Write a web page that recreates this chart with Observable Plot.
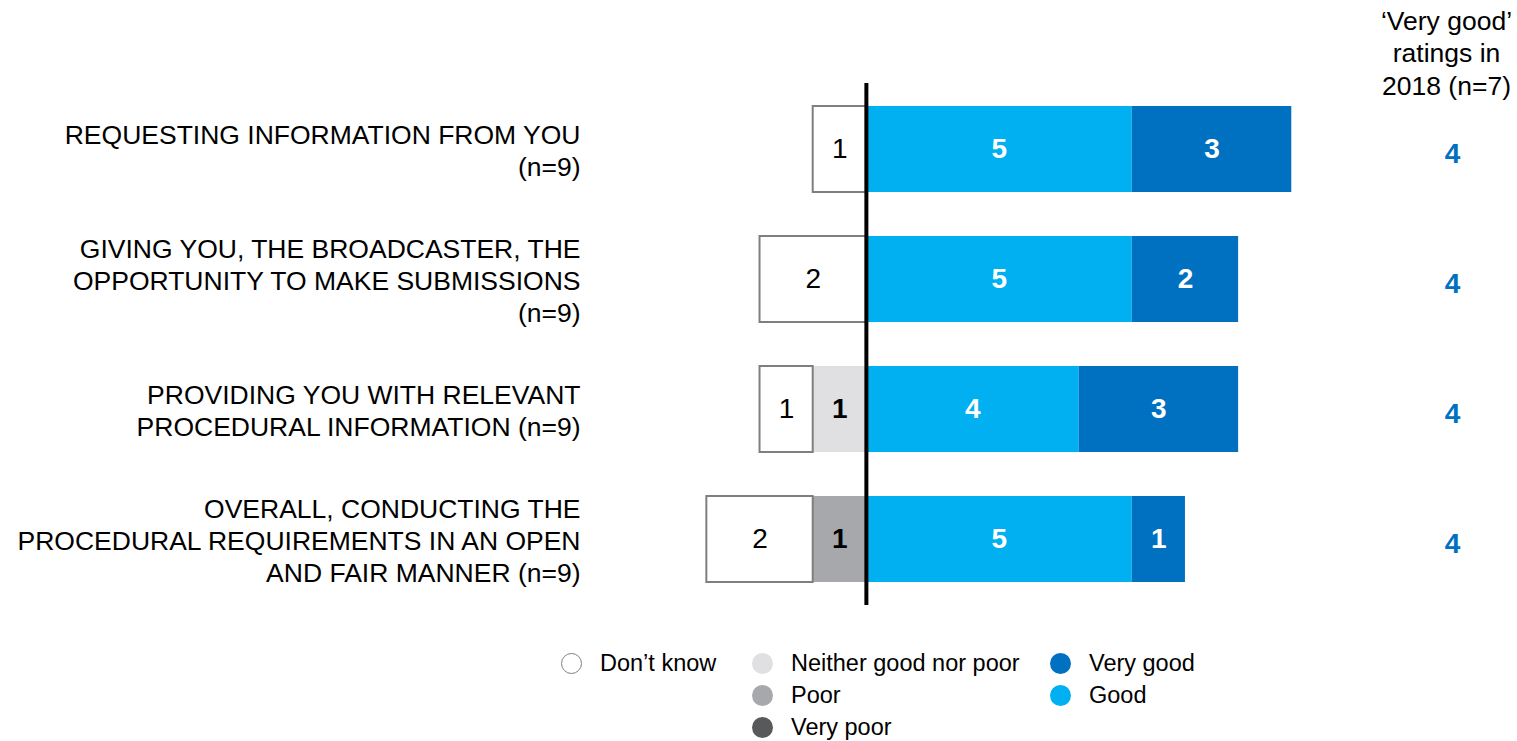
<!DOCTYPE html>
<html>
<head>
<meta charset="utf-8">
<script src="https://cdn.jsdelivr.net/npm/d3@7"></script>
<script src="https://cdn.jsdelivr.net/npm/@observablehq/plot@0.6"></script>
<style>
  body { margin: 0; background: #fff; font-family: "Liberation Sans", Arial, sans-serif; }
  #legend { position: relative; width: 1517px; height: 101px; font-size: 23.5px; color: #000; }
  .item { position: absolute; display: flex; align-items: center; white-space: nowrap; }
  .dot { width: 21px; height: 21px; border-radius: 50%; margin-right: 18px; box-sizing: border-box; flex: none; }
</style>
</head>
<body>
<div id="chart"></div>
<div id="legend"></div>
<script>
const categories = [
  "REQUESTING INFORMATION FROM YOU\n(n=9)",
  "GIVING YOU, THE BROADCASTER, THE\nOPPORTUNITY TO MAKE SUBMISSIONS\n(n=9)",
  "PROVIDING YOU WITH RELEVANT\nPROCEDURAL INFORMATION (n=9)",
  "OVERALL, CONDUCTING THE\nPROCEDURAL REQUIREMENTS IN AN OPEN\nAND FAIR MANNER (n=9)"
];
const dontKnow = [1, 2, 1, 2];
const veryPoor = [0, 0, 0, 0];
const poor     = [0, 0, 0, 1];
const neither  = [0, 0, 1, 0];
const good     = [5, 5, 4, 5];
const veryGood = [3, 2, 3, 1];
const veryGood2018 = [4, 4, 4, 4];
const headerText = "\u2018Very good\u2019\nratings in\n2018 (n=7)";

const seriesNames = ["Neither good nor poor", "Poor", "Very poor", "Don\u2019t know", "Good", "Very good"];
const seriesColors = ["#e0e0e2", "#a7a8ab", "#58595b", "#ffffff", "#00b0f0", "#0070c0"];
const negative = new Set(["Neither good nor poor", "Poor", "Very poor", "Don\u2019t know"]);
const seriesValues = {
  "Neither good nor poor": neither,
  "Poor": poor,
  "Very poor": veryPoor,
  "Don\u2019t know": dontKnow,
  "Good": good,
  "Very good": veryGood
};

const rows = [];
categories.forEach((c, i) => {
  seriesNames.forEach(s => {
    const v = seriesValues[s][i];
    if (v > 0) rows.push({category: c, series: s, count: v, value: negative.has(s) ? -v : v});
  });
});

const stackOpts = {x: "value", y: "category", z: "series", order: seriesNames};
const DK = "Don\u2019t know";

const chart = Plot.plot({
  width: 1517,
  height: 640,
  marginLeft: 600,
  marginRight: 13,
  marginTop: 83,
  marginBottom: 35,
  style: {fontFamily: "'Liberation Sans', Arial, sans-serif", fontSize: "26px", background: "#fff"},
  x: {domain: [-5, 12], axis: null},
  y: {domain: categories, axis: null, paddingInner: 0.335, paddingOuter: 0.165},
  color: {domain: seriesNames, range: seriesColors},
  marks: [
    Plot.barX(rows, Plot.stackX({
      ...stackOpts,
      fill: "series",
      stroke: d => d.series === DK ? "#7f7f7f" : "none",
      strokeWidth: 2,
      inset: 0
    })),
    Plot.ruleX([0], {stroke: "#000", strokeWidth: 4}),
    Plot.text(rows, Plot.stackX({
      ...stackOpts,
      text: d => d.series === DK ? null : d.count,
      fill: d => (d.series === "Good" || d.series === "Very good") ? "#ffffff" : "#000000",
      fontWeight: "bold",
      fontSize: 28
    })),
    Plot.text(rows, Plot.stackX({
      ...stackOpts,
      text: d => d.series === DK ? d.count : null,
      fill: "#000",
      fontSize: 28
    })),
    Plot.text(categories, {
      y: d => d,
      text: d => d,
      frameAnchor: "left",
      dx: -20,
      textAnchor: "end",
      lineHeight: 1.22,
      fontSize: 26.5,
      fill: "#000"
    }),
    Plot.text(categories, {
      y: d => d,
      text: (d, i) => veryGood2018[i],
      frameAnchor: "right",
      dx: -52,
      dy: 5,
      textAnchor: "middle",
      fill: "#0070c0",
      fontWeight: "bold",
      fontSize: 28
    }),
    Plot.text([headerText], {
      text: d => d,
      frameAnchor: "top-right",
      dx: -58,
      dy: -77,
      lineAnchor: "top",
      textAnchor: "middle",
      lineHeight: 1.23,
      fontSize: 26.5,
      fill: "#000"
    })
  ]
});
document.getElementById("chart").append(chart);

const legendItems = [
  {name: "Don\u2019t know", color: "#ffffff", border: "#7f7f7f", x: 561, y: 23},
  {name: "Neither good nor poor", color: "#e0e0e2", x: 752, y: 23},
  {name: "Poor", color: "#a7a8ab", x: 752, y: 55},
  {name: "Very poor", color: "#58595b", x: 752, y: 87},
  {name: "Very good", color: "#0070c0", x: 1050, y: 23},
  {name: "Good", color: "#00b0f0", x: 1050, y: 55}
];
const legend = document.getElementById("legend");
legendItems.forEach(it => {
  const el = document.createElement("div");
  el.className = "item";
  el.style.left = it.x + "px";
  el.style.top = (it.y - 14) + "px";
  el.style.height = "28px";
  const dot = document.createElement("span");
  dot.className = "dot";
  dot.style.background = it.color;
  dot.style.border = it.border ? "1.5px solid " + it.border : "none";
  const label = document.createElement("span");
  label.textContent = it.name;
  el.append(dot, label);
  legend.append(el);
});
</script>
</body>
</html>
